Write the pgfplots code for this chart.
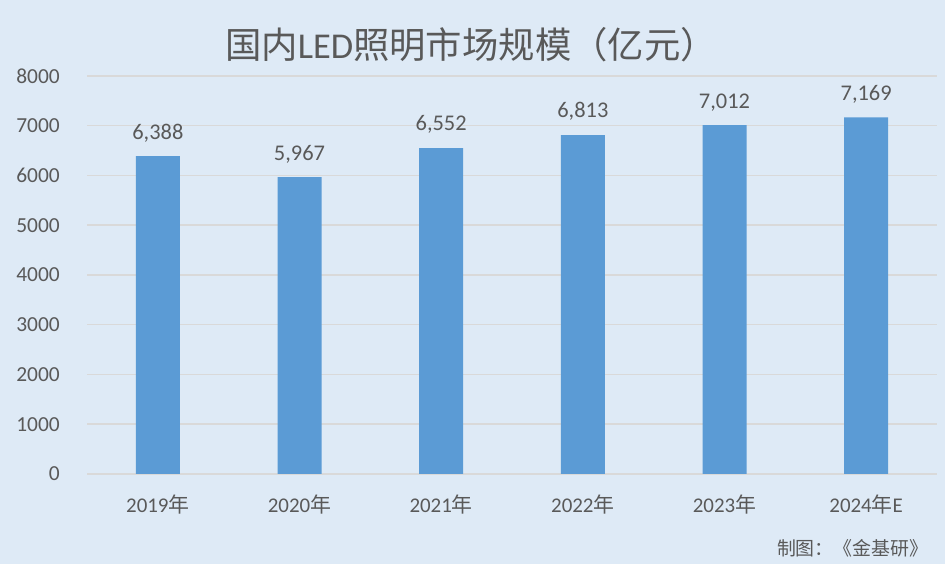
\documentclass[border=0pt]{standalone}
\usepackage{pgfplots}
\pgfplotsset{compat=1.18}
\usepackage{fontspec}
\setmainfont{Carlito}
\newfontfamily\cjk{Noto Sans CJK SC}
\definecolor{bgblue}{HTML}{DEEAF6}
\definecolor{barblue}{HTML}{5B9BD5}
\definecolor{gridgray}{HTML}{D9D9D9}
\definecolor{txtgray}{HTML}{595959}

\begin{document}
\begin{tikzpicture}[x=1bp,y=1bp]
\fill[bgblue] (0,0) rectangle (945,564);
\useasboundingbox (0,0) rectangle (945,564);

\begin{axis}[
    at={(87bp,90bp)}, anchor=south west,
    scale only axis,
    width=850bp, height=398bp,
    xmin=-0.5, xmax=5.5,
    ymin=0, ymax=8000,
    ytick={0,1000,...,8000},
    xtick=data,
    xticklabels={2019{\cjk 年},2020{\cjk 年},2021{\cjk 年},2022{\cjk 年},2023{\cjk 年},2024{\cjk 年}E},
    axis line style={draw=none},
    axis background/.style={fill=bgblue},
    major tick length=0pt,
    ymajorgrids,
    grid style={gridgray, line width=1.5bp},
    /pgf/number format/assume math mode=true,
    yticklabel style={font=\fontsize{21.5}{24}\selectfont, color=txtgray, anchor=east, inner sep=0pt, xshift=-27bp,
        /pgf/number format/1000 sep={}},
    xticklabel style={font=\fontsize{21}{24}\selectfont, color=txtgray, anchor=center, yshift=-31bp},
    ybar, bar width=44bp,
    nodes near coords={\pgfmathprintnumber[1000 sep={,}]{\pgfplotspointmeta}},
    every node near coord/.append style={font=\fontsize{22.5}{24}\selectfont, color=txtgray, anchor=south, inner sep=0pt, yshift=14bp},
]
\addplot[fill=barblue, draw=none] coordinates {
    (0,6388) (1,5967) (2,6552) (3,6813) (4,7012) (5,7169)
};
\end{axis}

\node[color=txtgray, font=\fontsize{36.5}{40}\selectfont] at (471,519) {{\cjk 国内}LED{\cjk 照明市场规模（亿元）}};
\node[color=txtgray, font=\cjk\fontsize{19}{22}\selectfont, anchor=east] at (932,16) {制图：《金基研》};
\end{tikzpicture}
\end{document}
